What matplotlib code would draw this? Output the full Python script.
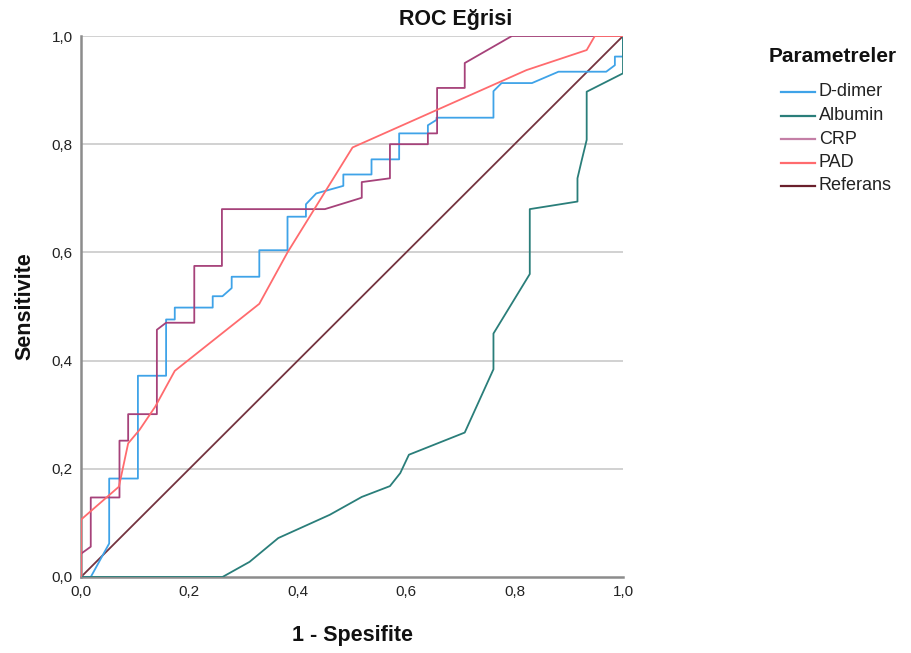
import matplotlib
matplotlib.use("Agg")
import matplotlib.pyplot as plt
from matplotlib.lines import Line2D

plt.rcParams['font.family'] = ['Liberation Sans', 'DejaVu Sans']

# ROC curve coordinates (1 - specificity, sensitivity)
ddimer_x = [0.0, 0.018, 0.052, 0.052, 0.105, 0.105, 0.157, 0.157, 0.173, 0.173, 0.243, 0.243,
            0.261, 0.278, 0.278, 0.329, 0.329, 0.381, 0.381, 0.415, 0.415, 0.434, 0.484, 0.484,
            0.536, 0.536, 0.587, 0.587, 0.640, 0.640, 0.656, 0.656, 0.761, 0.761, 0.776, 0.832,
            0.881, 0.969, 0.985, 0.985, 1.0, 1.0]
ddimer_y = [0.0, 0.0, 0.062, 0.182, 0.182, 0.372, 0.372, 0.476, 0.476, 0.498, 0.498, 0.519,
            0.519, 0.534, 0.555, 0.555, 0.604, 0.604, 0.666, 0.666, 0.689, 0.709, 0.723, 0.744,
            0.744, 0.772, 0.772, 0.820, 0.820, 0.835, 0.845, 0.849, 0.849, 0.898, 0.913, 0.913,
            0.934, 0.934, 0.946, 0.962, 0.962, 1.0]

albumin_x = [0.0, 0.261, 0.311, 0.364, 0.459, 0.518, 0.570, 0.589, 0.605, 0.708, 0.761, 0.761,
             0.828, 0.828, 0.916, 0.916, 0.924, 0.933, 0.933, 1.0, 1.0]
albumin_y = [0.0, 0.0, 0.028, 0.072, 0.115, 0.148, 0.168, 0.192, 0.226, 0.267, 0.384, 0.450,
             0.560, 0.680, 0.694, 0.737, 0.771, 0.808, 0.897, 0.931, 1.0]

crp_x = [0.0, 0.0, 0.018, 0.018, 0.071, 0.071, 0.087, 0.087, 0.140, 0.140, 0.157, 0.209, 0.209,
         0.260, 0.260, 0.450, 0.518, 0.518, 0.570, 0.570, 0.640, 0.640, 0.657, 0.657, 0.708,
         0.708, 0.795, 1.0]
crp_y = [0.0, 0.043, 0.056, 0.147, 0.147, 0.252, 0.252, 0.301, 0.301, 0.457, 0.470, 0.470, 0.575,
         0.575, 0.680, 0.680, 0.701, 0.730, 0.737, 0.800, 0.800, 0.820, 0.820, 0.904, 0.904,
         0.950, 1.0, 1.0]

pad_x = [0.0, 0.0, 0.070, 0.087, 0.108, 0.137, 0.173, 0.329, 0.381, 0.501, 0.822, 0.933, 0.948, 1.0]
pad_y = [0.0, 0.106, 0.167, 0.247, 0.272, 0.315, 0.381, 0.505, 0.600, 0.794, 0.937, 0.974, 1.0, 1.0]

ref_x = [0.0, 1.0]
ref_y = [0.0, 1.0]

series_names = ["D-dimer", "Albumin", "CRP", "PAD", "Referans"]
colors = ["#3FA3E8", "#2A7E7A", "#A6427A", "#FF6B6E", "#74333F"]
legend_colors = ["#3FA3E8", "#2A7E7A", "#C47FA6", "#FF6B6E", "#6A1F2C"]

xticks = [0.0, 0.2, 0.4, 0.6, 0.8, 1.0]
yticks = [0.0, 0.2, 0.4, 0.6, 0.8, 1.0]
tick_labels = ["0,0", "0,2", "0,4", "0,6", "0,8", "1,0"]

W, H = 911, 653
fig = plt.figure(figsize=(W/100, H/100), dpi=100)
ax = fig.add_axes([81/W, 1-577/H, (623-81)/W, (577-36)/H])

for y in yticks[1:]:
    ax.axhline(y, color="#C9C9C9", lw=1.2, zorder=0)

data = [(ddimer_x, ddimer_y), (albumin_x, albumin_y), (crp_x, crp_y), (pad_x, pad_y)]
for (xs, ys), c in zip(data, colors[:4]):
    ax.plot(xs, ys, color=c, lw=1.3, zorder=3)
ax.plot(ref_x, ref_y, color=colors[4], lw=1.3, zorder=2)

ax.set_xlim(0, 1)
ax.set_ylim(0, 1)
ax.set_xticks(xticks)
ax.set_xticklabels(tick_labels)
ax.set_yticks(yticks)
ax.set_yticklabels(tick_labels)
ax.tick_params(length=0, labelsize=11, pad=6, colors="#222222")
for s in ["top", "right"]:
    ax.spines[s].set_visible(False)
for s in ["left", "bottom"]:
    ax.spines[s].set_color("#8C8C8C")
    ax.spines[s].set_linewidth(1.8)

fig.text(0.5, 1-20/H, "ROC Eğrisi", fontsize=15.5, fontweight="bold",
         ha="center", va="center", color="#111111")
fig.text(353/W, 1-635/H, "1 - Spesifite", fontsize=15.5, fontweight="bold",
         ha="center", va="center", color="#111111")
fig.text(25/W, 1-306/H, "Sensitivite", fontsize=15.5, fontweight="bold", rotation=90,
         ha="center", va="center", color="#111111")

# legend drawn in figure pixel positions
fig.text(769/W, 1-57/H, "Parametreler", fontsize=15, fontweight="bold",
         ha="left", va="center", color="#111111")
row_y = [92, 115.5, 139, 162.5, 186]
for name, c, ry in zip(series_names, legend_colors, row_y):
    fig.add_artist(Line2D([781/W, 815/W], [1-ry/H, 1-ry/H], color=c, lw=1.6,
                          transform=fig.transFigure))
    fig.text(819/W, 1-ry/H, name, fontsize=13, ha="left", va="center", color="#222222")

fig.savefig("out.png", dpi=100)
